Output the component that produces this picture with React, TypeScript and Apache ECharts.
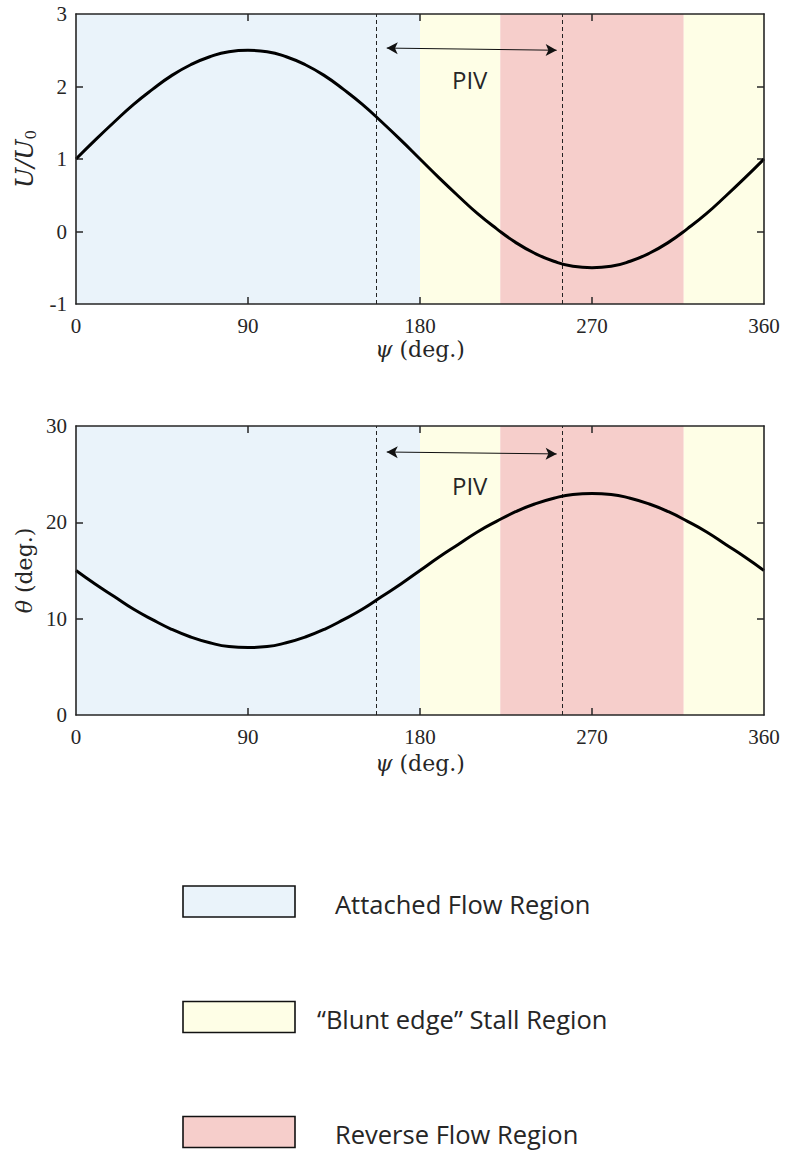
import React, { useEffect, useRef } from "react";
import * as echarts from "echarts";

// Phase angle samples (deg.)
const PSI = [
  0, 10, 20, 30, 40, 50, 60, 70, 80, 90, 100, 110, 120, 130, 140, 150, 160, 170, 180,
  190, 200, 210, 220, 230, 240, 250, 260, 270, 280, 290, 300, 310, 320, 330, 340, 350, 360,
];

// Normalised velocity U/U0 over one cycle
const U_RATIO = [
  1.0, 1.26, 1.51, 1.75, 1.96, 2.15, 2.3, 2.41, 2.48, 2.5, 2.48, 2.41, 2.3, 2.15, 1.96, 1.75, 1.51, 1.26, 1.0,
  0.74, 0.49, 0.25, 0.04, -0.15, -0.3, -0.41, -0.48, -0.5, -0.48, -0.41, -0.3, -0.15, 0.04, 0.25, 0.49, 0.74, 1.0,
];

// Effective angle of attack theta (deg.)
const THETA = [
  15.0, 13.6, 12.3, 11.0, 9.9, 8.9, 8.1, 7.5, 7.1, 7.0, 7.1, 7.5, 8.1, 8.9, 9.9, 11.0, 12.3, 13.6, 15.0,
  16.4, 17.7, 19.0, 20.1, 21.1, 21.9, 22.5, 22.9, 23.0, 22.9, 22.5, 21.9, 21.1, 20.1, 19.0, 17.7, 16.4, 15.0,
];

// Tick values
const PSI_TICKS = [0, 90, 180, 270, 360];
const U_TICKS = [-1, 0, 1, 2, 3];
const THETA_TICKS = [0, 10, 20, 30];

// Flow regimes along psi: [start, end] and which regime each band is
const REGION_BOUNDS = [
  [0, 180],
  [180, 222],
  [222, 318],
  [318, 360],
];
const REGION_KIND = [0, 1, 2, 1];
const LEGEND_LABELS = ["Attached Flow Region", "\u201cBlunt edge\u201d Stall Region", "Reverse Flow Region"];

// PIV measurement window (dashed limits) and arrow extent
const PIV_LIMITS = [157, 254.5];
const PIV_ARROW = [162.6, 251.5];

// Styles
const REGION_COLORS = ["#eaf3fa", "#fefee6", "#f6cecb"];
const INK = "#262626";
const SERIF = "'Liberation Serif', 'Times New Roman', serif";
const NAME_SERIF = "'DejaVu Serif', 'Liberation Serif', serif";
const SANS = "'Open Sans', 'Noto Sans', sans-serif";
const TICK_PX = 7;

const W = 785;
const H = 1150;

type Panel = {
  data: number[];
  yTicks: number[];
  yName: string;
  arrowY: [number, number];
  pivLabel: [number, number];
  grid: { left: number; top: number; width: number; height: number };
  xNameGap: number;
};

const PANELS: Panel[] = [
  {
    data: U_RATIO,
    yTicks: U_TICKS,
    yName: "{u|U/U}{s|0}",
    arrowY: [2.53, 2.5],
    pivLabel: [206, 2.1],
    grid: { left: 76, top: 14, width: 688, height: 290 },
    xNameGap: 34,
  },
  {
    data: THETA,
    yTicks: THETA_TICKS,
    yName: "{i|\u03b8} (deg.)",
    arrowY: [27.3, 27.1],
    pivLabel: [206, 23.8],
    grid: { left: 76, top: 426, width: 688, height: 289 },
    xNameGap: 37,
  },
];

const nameRich = {
  i: { fontFamily: NAME_SERIF, fontStyle: "italic", fontSize: 22, color: INK },
  u: { fontFamily: NAME_SERIF, fontStyle: "italic", fontSize: 24, color: INK },
  s: { fontFamily: NAME_SERIF, fontSize: 15, color: INK, padding: [13, 0, 0, 0] },
};

const makeLine = () => ({ show: true, onZero: false, lineStyle: { color: INK, width: 1.6 } });

// Inward tick marks on all four sides of a panel, in data units
function tickSegments(p: Panel) {
  const xMin = PSI_TICKS[0];
  const xMax = PSI_TICKS[PSI_TICKS.length - 1];
  const yMin = p.yTicks[0];
  const yMax = p.yTicks[p.yTicks.length - 1];
  const dx = (TICK_PX / p.grid.width) * (xMax - xMin);
  const dy = (TICK_PX / p.grid.height) * (yMax - yMin);
  const style = { type: "solid", width: 1.5, color: INK };
  const seg = (a: number[], b: number[]) => [{ coord: a, lineStyle: style }, { coord: b }];
  const out: any[] = [];
  PSI_TICKS.slice(1, -1).forEach((t) => {
    out.push(seg([t, yMin], [t, yMin + dy]));
    out.push(seg([t, yMax], [t, yMax - dy]));
  });
  p.yTicks.slice(1, -1).forEach((v) => {
    out.push(seg([xMin, v], [xMin + dx, v]));
    out.push(seg([xMax, v], [xMax - dx, v]));
  });
  return out;
}

function buildOption() {
  const grids: any[] = [];
  const xAxes: any[] = [];
  const yAxes: any[] = [];
  const series: any[] = [];

  PANELS.forEach((p, k) => {
    grids.push({ ...p.grid, containLabel: false });
    const yMin = p.yTicks[0];
    const yMax = p.yTicks[p.yTicks.length - 1];
    const yStep = p.yTicks[1] - p.yTicks[0];

    xAxes.push({
      type: "value",
      gridIndex: k,
      min: PSI_TICKS[0],
      max: PSI_TICKS[PSI_TICKS.length - 1],
      interval: PSI_TICKS[1] - PSI_TICKS[0],
      position: "bottom",
      z: 20,
      axisLine: makeLine(),
      axisTick: { show: false },
      splitLine: { show: false },
      axisLabel: { fontFamily: SERIF, fontSize: 21, color: INK, margin: 11 },
      name: "{i|\u03c8} (deg.)",
      nameLocation: "middle",
      nameGap: p.xNameGap,
      nameTextStyle: { fontFamily: NAME_SERIF, fontSize: 22, color: INK, rich: nameRich },
    });
    xAxes.push({
      type: "value",
      gridIndex: k,
      min: PSI_TICKS[0],
      max: PSI_TICKS[PSI_TICKS.length - 1],
      interval: PSI_TICKS[1] - PSI_TICKS[0],
      position: "top",
      z: 20,
      axisLine: makeLine(),
      axisTick: { show: false },
      splitLine: { show: false },
      axisLabel: { show: false },
    });
    yAxes.push({
      type: "value",
      gridIndex: k,
      min: yMin,
      max: yMax,
      interval: yStep,
      position: "left",
      z: 20,
      axisLine: makeLine(),
      axisTick: { show: false },
      splitLine: { show: false },
      axisLabel: { fontFamily: SERIF, fontSize: 21, color: INK, margin: 9 },
      name: p.yName,
      nameLocation: "middle",
      nameGap: 37,
      nameRotate: 90,
      nameTextStyle: { fontFamily: NAME_SERIF, fontSize: 22, color: INK, rich: nameRich },
    });
    yAxes.push({
      type: "value",
      gridIndex: k,
      min: yMin,
      max: yMax,
      interval: yStep,
      position: "right",
      z: 20,
      axisLine: makeLine(),
      axisTick: { show: false },
      splitLine: { show: false },
      axisLabel: { show: false },
    });

    series.push({
      type: "line",
      xAxisIndex: 2 * k,
      yAxisIndex: 2 * k,
      data: PSI.map((x, i) => [x, p.data[i]]),
      smooth: true,
      showSymbol: false,
      symbol: "none",
      lineStyle: { color: "#000", width: 3 },
      z: 5,
      markArea: {
        silent: true,
        z: -1,
        data: REGION_BOUNDS.map((b, i) => [
          { xAxis: b[0], itemStyle: { color: REGION_COLORS[REGION_KIND[i]] } },
          { xAxis: b[1] },
        ]),
      },
      markLine: {
        silent: true,
        symbol: "none",
        label: { show: false },
        lineStyle: { color: "#222", width: 1, type: [4, 3] },
        data: [
          ...PIV_LIMITS.map((x) => ({ xAxis: x })),
          [
            {
              coord: [PIV_ARROW[0], p.arrowY[0]],
              symbol: "arrow",
              symbolSize: [9, 11],
              lineStyle: { type: "solid", width: 1, color: "#111" },
            },
            {
              coord: [PIV_ARROW[1], p.arrowY[1]],
              symbol: "arrow",
              symbolSize: [9, 11],
            },
          ],
          ...tickSegments(p),
        ],
      },
      markPoint: {
        silent: true,
        symbol: "rect",
        symbolSize: 1,
        itemStyle: { color: "rgba(0,0,0,0)" },
        label: {
          show: true,
          position: "inside",
          formatter: "PIV",
          fontFamily: SANS,
          fontSize: 24,
          color: INK,
        },
        data: [{ coord: p.pivLabel }],
      },
    });
  });

  // Legend of flow regimes
  const boxX = 183;
  const boxW = 112;
  const boxH = 31;
  const rowsY = [886, 1001.5, 1116.5];
  const textX = [335, 317, 335];
  const graphic: any[] = [];
  LEGEND_LABELS.forEach((label, i) => {
    graphic.push({
      type: "rect",
      shape: { x: boxX, y: rowsY[i], width: boxW, height: boxH },
      style: { fill: REGION_COLORS[i], stroke: "#111", lineWidth: 1.6 },
    });
    graphic.push({
      type: "text",
      x: textX[i],
      y: rowsY[i] + boxH / 2 + 2,
      style: {
        text: label,
        fontFamily: SANS,
        fontSize: 25.5,
        fill: INK,
        verticalAlign: "middle",
        align: "left",
      },
    });
  });

  return {
    animation: false,
    backgroundColor: "#ffffff",
    grid: grids,
    xAxis: xAxes,
    yAxis: yAxes,
    series,
    graphic,
  };
}

export default function App() {
  const ref = useRef<HTMLDivElement>(null);
  useEffect(() => {
    if (!ref.current) return;
    const chart = echarts.init(ref.current, undefined, { renderer: "svg", width: W, height: H });
    chart.setOption(buildOption());
    return () => chart.dispose();
  }, []);
  return (
    <div
      ref={ref}
      style={{ position: "fixed", left: 0, top: 0, width: W, height: H, background: "#fff" }}
    />
  );
}
